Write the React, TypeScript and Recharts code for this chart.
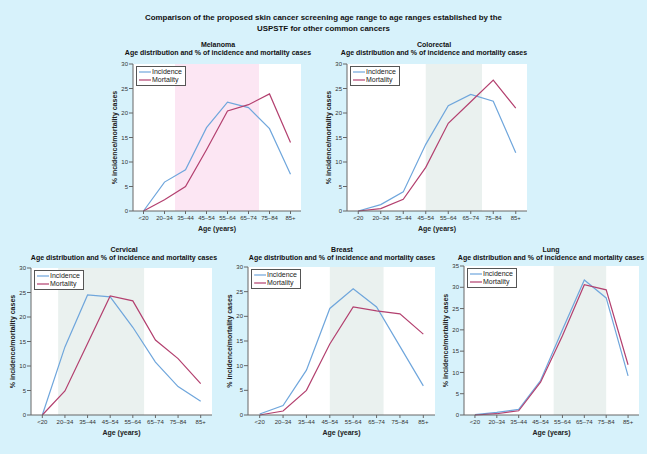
import React from "react";
import { LineChart, Line, XAxis, YAxis, CartesianGrid, ReferenceArea, Legend } from "recharts";

const FONT = "'Liberation Sans', Arial, Helvetica, sans-serif";
const INC = "#6fa6dc";
const MORT = "#b3406f";

const ageGroups = ["<20", "20–34", "35–44", "45–54", "55–64", "65–74", "75–84", "85+"];

const melanomaIncidence = [0, 5.9, 8.4, 17.0, 22.2, 21.1, 16.8, 7.5];
const melanomaMortality = [0, 2.3, 5.0, 12.5, 20.4, 21.7, 23.9, 14.0];

const colorectalIncidence = [0, 1.3, 3.9, 13.6, 21.5, 23.8, 22.4, 11.9];
const colorectalMortality = [0, 0.5, 2.4, 8.9, 17.9, 22.3, 26.7, 21.0];

const cervicalIncidence = [0, 13.9, 24.5, 24.1, 17.9, 10.8, 5.8, 2.8];
const cervicalMortality = [0, 4.9, 14.6, 24.3, 23.3, 15.3, 11.5, 6.4];

const breastIncidence = [0.2, 1.9, 9.1, 21.6, 25.6, 21.9, 13.9, 5.9];
const breastMortality = [0, 0.8, 5.0, 14.4, 21.9, 21.1, 20.5, 16.4];

const lungIncidence = [0.1, 0.6, 1.3, 8.1, 20.0, 31.7, 27.5, 9.2];
const lungMortality = [0, 0.3, 1.0, 7.7, 18.6, 30.6, 29.4, 11.8];

const ticks30 = [0, 5, 10, 15, 20, 25, 30];
const ticks35 = [0, 5, 10, 15, 20, 25, 30, 35];

const toRows = (inc: number[], mort: number[]) =>
  ageGroups.map((age, i) => ({ i, age, incidence: inc[i], mortality: mort[i] }));

const LegendBox = (props: any) => {
  const { payload } = props;
  return (
    <div
      style={{
        border: "1px solid #555",
        background: "#fff",
        padding: "1px 3px 1px 2px",
        fontSize: 7,
        lineHeight: "8px",
        fontFamily: FONT,
        color: "#222",
        display: "inline-block",
        textAlign: "left",
      }}
    >
      {(payload || []).map((p: any) => (
        <div key={p.value} style={{ display: "flex", alignItems: "center", height: 8 }}>
          <svg width={12} height={6}>
            <line x1={0} x2={12} y1={3} y2={3} stroke={p.color} strokeWidth={1.2} />
          </svg>
          <span style={{ marginLeft: 1 }}>{p.value}</span>
        </div>
      ))}
    </div>
  );
};

type PanelProps = {
  x: number;
  y: number;
  w: number;
  h: number;
  inc: number[];
  mort: number[];
  band: [number, number];
  bandColor: string;
  bandOpacity: number;
  yMax: number;
  yTicks: number[];
};

function Panel({ x, y, w, h, inc, mort, band, bandColor, bandOpacity, yMax, yTicks }: PanelProps) {
  const data = toRows(inc, mort);
  return (
    <div style={{ position: "absolute", left: x - 60, top: y - 10 }}>
      <LineChart width={w + 70} height={h + 40} data={data} margin={{ top: 10, right: 10, bottom: 0, left: 0 }}>
        <CartesianGrid horizontal={false} vertical={false} fill="#fff" fillOpacity={1} stroke="none" />
        <ReferenceArea x1={band[0]} x2={band[1]} fill={bandColor} fillOpacity={bandOpacity} stroke="none" />
        <XAxis
          type="number"
          dataKey="i"
          domain={[-0.5, 7.5]}
          ticks={[0, 1, 2, 3, 4, 5, 6, 7]}
          interval={0}
          tickFormatter={(v: number) => ageGroups[v]}
          height={30}
          tickSize={3}
          tickMargin={2}
          stroke="#666"
          tick={{ fontSize: 6, fill: "#333", fontFamily: FONT }}
          label={{ value: "Age (years)", position: "center", dy: 3, style: { fontSize: 7, fontWeight: 700, fill: "#222", fontFamily: FONT } }}
        />
        <YAxis
          type="number"
          domain={[0, yMax]}
          ticks={yTicks}
          interval={0}
          width={60}
          tickSize={4}
          tickMargin={1}
          stroke="#666"
          tick={{ fontSize: 6, fill: "#333", fontFamily: FONT }}
          label={{
            value: "% incidence/mortality cases",
            angle: -90,
            position: "center",
            dx: 12,
            style: { fontSize: 7, fontWeight: 700, fill: "#222", fontFamily: FONT, textAnchor: "middle" },
          }}
        />
        <Legend
          layout="horizontal"
          verticalAlign="middle"
          align="center"
          content={<LegendBox />}
          wrapperStyle={{ left: 63, top: 12, width: "auto", height: "auto" }}
        />
        <Line type="linear" dataKey="incidence" name="Incidence" stroke={INC} strokeWidth={1.2} dot={false} isAnimationActive={false} />
        <Line type="linear" dataKey="mortality" name="Mortality" stroke={MORT} strokeWidth={1.2} dot={false} isAnimationActive={false} />
      </LineChart>
    </div>
  );
}

const titleStyle: React.CSSProperties = {
  position: "absolute",
  textAlign: "center",
  fontFamily: FONT,
  fontWeight: 700,
  color: "#111",
  whiteSpace: "nowrap",
};

function SubTitle({ cx, top, name }: { cx: number; top: number; name: string }) {
  return (
    <div style={{ ...titleStyle, left: cx - 120, width: 240, top, fontSize: 7, lineHeight: "8px" }}>
      <div>{name}</div>
      <div>Age distribution and % of incidence and mortality cases</div>
    </div>
  );
}

export default function App() {
  const pink = "#f7b7dc";
  const green = "#b8cfc9";
  return (
    <div style={{ position: "absolute", left: 0, top: 0, width: 647, height: 454, background: "#d7f2fb", overflow: "hidden" }}>
      <div style={{ ...titleStyle, left: 0, width: 647, top: 13, fontSize: 7.9, lineHeight: "10.5px" }}>
        <div>Comparison of the proposed skin cancer screening age range to age ranges established by the</div>
        <div>USPSTF for other common cancers</div>
      </div>

      <SubTitle cx={218} top={41} name="Melanoma" />
      <SubTitle cx={434} top={41} name="Colorectal" />
      <SubTitle cx={124} top={245.5} name="Cervical" />
      <SubTitle cx={342} top={246} name="Breast" />
      <SubTitle cx={551} top={246} name="Lung" />

      <Panel x={133} y={64} w={168} h={147} inc={melanomaIncidence} mort={melanomaMortality} band={[1.5, 5.5]} bandColor={pink} bandOpacity={0.35} yMax={30} yTicks={ticks30} />
      <Panel x={347} y={64} w={180} h={147} inc={colorectalIncidence} mort={colorectalMortality} band={[3, 5.5]} bandColor={green} bandOpacity={0.3} yMax={30} yTicks={ticks30} />
      <Panel x={31} y={268} w={181} h={147} inc={cervicalIncidence} mort={cervicalMortality} band={[0.7, 4.5]} bandColor={green} bandOpacity={0.3} yMax={30} yTicks={ticks30} />
      <Panel x={248} y={267} w={187} h={148} inc={breastIncidence} mort={breastMortality} band={[3, 5.3]} bandColor={green} bandOpacity={0.3} yMax={30} yTicks={ticks30} />
      <Panel x={464} y={266} w={175} h={149} inc={lungIncidence} mort={lungMortality} band={[3.6, 6]} bandColor={green} bandOpacity={0.3} yMax={35} yTicks={ticks35} />
    </div>
  );
}
